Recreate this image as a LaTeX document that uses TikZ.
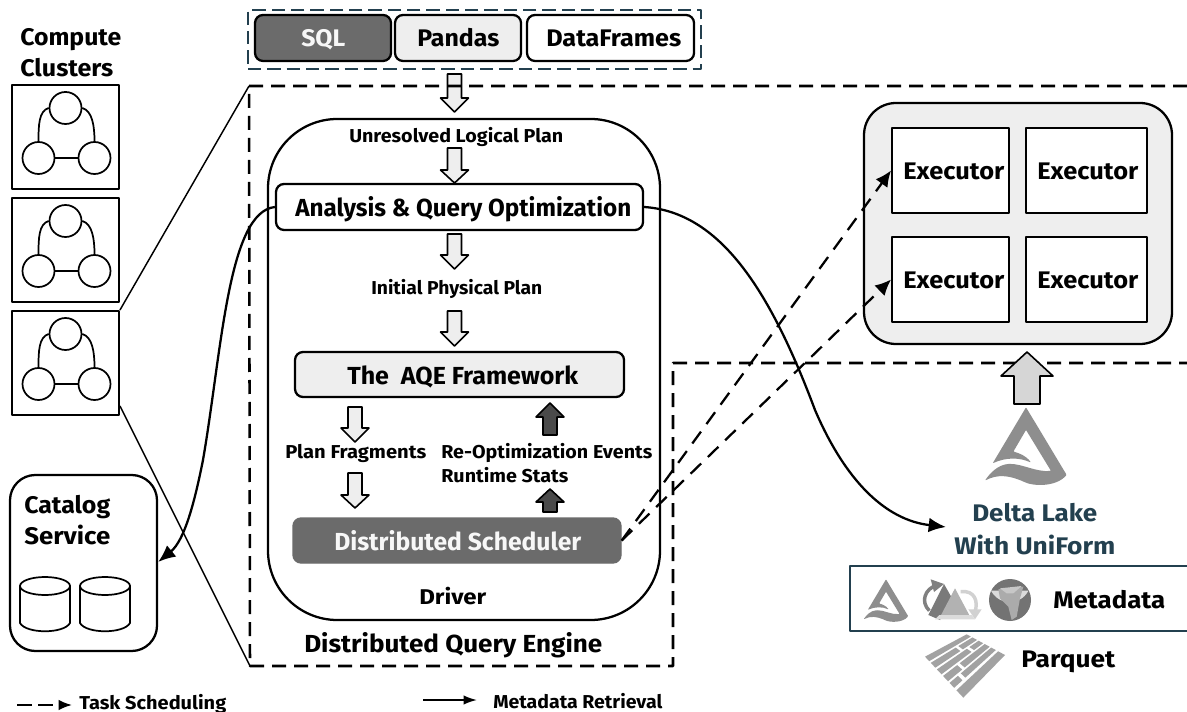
\documentclass[tikz,border=0pt]{standalone}
\usepackage{fontspec}
\setmainfont{Fira Sans}
\usetikzlibrary{arrows.meta,calc}
\newdimen\pxu \pxu=0.75pt
\definecolor{slate}{HTML}{23404F}
\definecolor{lightg}{HTML}{EEEEEE}
\definecolor{darkg}{HTML}{6B6B6B}
\definecolor{arrowd}{HTML}{4A4A4A}
\definecolor{logog}{HTML}{8E8E8E}
\definecolor{pqg}{HTML}{A2A2A2}
% #1 name, #2 style, #3 x0, #4 y0, #5 x1, #6 y1
\newcommand\bx[6]{%
  \pgfmathsetmacro\bxw{#5-#3}\pgfmathsetmacro\bxh{#6-#4}%
  \pgfmathsetmacro\bxx{(#3+#5)/2}\pgfmathsetmacro\bxy{(#4+#6)/2}%
  \node[#2,inner sep=0pt,minimum width=\bxw*\pxu,minimum height=\bxh*\pxu] (#1) at (\bxx,\bxy) {};}
% #1 name, #2 colour, #3 font size pt, #4 x left, #5 baseline, #6 width px, #7 text
\newcommand\tx[7]{%
  \node[anchor=base west,inner sep=0pt,text=#2] (#1) at (#4,#5+1)
   {\resizebox{#6\pxu}{\height}{\fontsize{#3}{#3}\selectfont\bfseries #7}};}
% block arrows: cx, ytop, yhead, ytip, half shaft, fill
\newcommand\blk[6]{%
  \pgfmathsetmacro\bl{#1-#5}\pgfmathsetmacro\br{#1+#5}%
  \pgfmathsetmacro\hl{#1-#5*2}\pgfmathsetmacro\hr{#1+#5*2}%
  \draw[blockline,fill=#6] (\bl,#2) -- (\br,#2) -- (\br,#3) -- (\hr,#3) -- (#1,#4) -- (\hl,#3) -- (\bl,#3) -- cycle;}
\newcommand\cluster[3]{%
  \bx{#1}{clusterbox}{#2}{#3}{#2+107}{#3+104}
  \node[nodecirc] (#1t) at (#2+53.5,#3+23) {};
  \node[nodecirc] (#1l) at (#2+26.5,#3+73) {};
  \node[nodecirc] (#1r) at (#2+82.5,#3+73) {};
  \draw[innerline] (#1l) -- (#1r);
  \draw[innerline] (#1t.west) .. controls +(-10,3) and +(0,-15) .. (#1l.north);
  \draw[innerline] (#1t.east) .. controls +(10,3) and +(0,-15) .. (#1r.north);
}
\newcommand\cyl[2]{%
  \draw[innerline,fill=white] (#1,#2) -- (#1,#2+37) .. controls (#1+6,#2+48) and (#1+44,#2+48) .. (#1+50,#2+37) -- (#1+50,#2) -- cycle;
  \draw[innerline,fill=white] (#1+25,#2) ellipse[x radius=25,y radius=9];
}
\newcommand\deltalogo[3]{%
  \begin{scope}[shift={(#1,#2)},x=#3*\pxu,y=-#3*\pxu]
  \fill[logog,rounded corners=0.6pt] (0,0) -- (-100,168)
    .. controls (-60,150) and (-20,150) .. (15,166)
    .. controls (0,145) and (-20,138) .. (-38,133) -- (0,68) -- (75,191)
    .. controls (30,195) and (-10,170) .. (-50,170)
    .. controls (-85,172) and (-110,200) .. (-123,220)
    .. controls (-85,200) and (-50,205) .. (-10,222)
    .. controls (20,238) and (90,240) .. (122,203) -- cycle;
  \end{scope}}
% parquet strip: u0 u1 v0 v1
\newcommand\pq[4]{%
  \fill[pqg] ({30+#1*125+#3*115},{95-#1*67+#3*(123-#1*61)}) --
             ({30+#2*125+#3*115},{95-#2*67+#3*(123-#2*61)}) --
             ({30+#2*125+#4*115},{95-#2*67+#4*(123-#2*61)}) --
             ({30+#1*125+#4*115},{95-#1*67+#4*(123-#1*61)}) -- cycle;}
\begin{document}
\begin{tikzpicture}[x=0.75pt,y=-0.75pt,
  line join=round,
  boxline/.style={draw=black,line width=1.7pt},
  rbox/.style={boxline,rectangle,rounded corners=6pt},
  clusterbox/.style={draw=black,line width=1.4pt,rectangle},
  nodecirc/.style={draw=black,line width=1.3pt,circle,inner sep=0pt,minimum size=24pt,fill=white},
  innerline/.style={draw=black,line width=1.3pt},
  blockline/.style={draw=black,line width=1.2pt},
  regionline/.style={draw=black,line width=1.9pt,dash pattern=on 10.5pt off 6pt},
  inputline/.style={draw=slate,line width=1.7pt,dash pattern=on 10pt off 4.5pt},
  schedline/.style={draw=black,line width=1.7pt,dash pattern=on 11pt off 7pt,-{Latex[length=12pt,width=11pt]}},
  metaline/.style={draw=black,line width=1.7pt,-{Latex[length=13pt,width=11pt]}},
  thinline/.style={draw=black,line width=1.1pt}]
\useasboundingbox (0,0) rectangle (1187,712);
\fill[white] (0,0) rectangle (1187,712);

% input group
\bx{inputs}{inputline,rectangle}{248}{10}{701}{69}
\bx{sql}{rbox,fill=darkg}{255}{15}{391}{61}
\bx{pandas}{rbox,fill=lightg}{395}{15}{521}{61}
\bx{frames}{rbox,fill=white}{527}{15}{694}{61}
\tx{tsql}{black!3}{18}{301}{46}{44}{SQL}
\tx{tpandas}{black}{18}{417}{46}{82}{Pandas}
\tx{tframes}{black}{18}{546}{46}{135}{DataFrames}

\blk{454.5}{74}{98}{112}{7}{lightg}

% region
\coordinate (rtl) at (249,86);
\coordinate (rbl) at (250,666);
\draw[regionline] (1187,86) -- (rtl) -- (rbl) -- (673,666) -- (673,363) -- (1187,363);

% compute clusters
\tx{tcomp}{black}{18}{20}{45}{101}{Compute}
\tx{tclus}{black}{18}{20}{76}{93}{Clusters}
\cluster{c1}{12}{85}
\cluster{c2}{12}{198}
\cluster{c3}{12}{311}
\draw[thinline] (c3.north east) -- (rtl);
\draw[thinline] ($(c3.south east)+(0,-10)$) -- (rbl);

% catalog
\bx{catalog}{boxline,rectangle,rounded corners=19pt,fill=white}{10}{475}{157}{651}
\tx{tcat}{black}{18}{24}{512}{86}{Catalog}
\tx{tser}{black}{18}{24}{543}{86}{Service}
\cyl{20}{586}
\cyl{80}{586}

% driver
\bx{driver}{boxline,rectangle,rounded corners=52pt,fill=white}{268}{119}{660}{620}
\tx{tulp}{black}{14}{349}{142}{214}{Unresolved Logical Plan}
\blk{454.5}{148}{170}{183}{7}{lightg}
\bx{analysis}{rbox,fill=white}{276}{184}{643}{230}
\tx{tana}{black}{18.5}{295}{216}{336}{Analysis \& Query Optimization}
\blk{454.5}{234}{255}{269}{7}{lightg}
\tx{tipp}{black}{14}{371}{294}{171}{Initial Physical Plan}
\blk{454.5}{311}{332}{346}{7}{lightg}
\bx{aqe}{rbox,fill=lightg}{295}{352}{624}{397}
\tx{taqe}{black}{18.5}{347}{383}{231}{The\ \ AQE Framework}
\blk{355}{407}{428}{442}{7}{lightg}
\tx{tfrag}{black}{14}{285}{457}{141}{Plan Fragments}
\blk{355}{473}{495}{508}{7}{lightg}
\tx{tre}{black}{14}{441}{457}{211}{Re-Optimization Events}
\tx{trun}{black}{14}{441}{481}{127}{Runtime Stats}
\blk{550}{435}{417}{403}{7}{arrowd}
\blk{550}{512}{502}{489}{7}{arrowd}
\bx{sched}{draw=darkg,line width=1pt,rectangle,rounded corners=6pt,fill=darkg}{293}{518}{621}{563}
\tx{tsch}{black!3}{18.5}{334}{549}{247}{Distributed Scheduler}
\tx{tdrv}{black}{16}{419}{603}{67}{Driver}
\tx{tdqe}{black}{18.5}{304}{651}{298}{Distributed Query Engine}

% executors
\bx{pool}{boxline,rectangle,rounded corners=24pt,fill=lightg}{864}{103}{1172}{344}
\bx{e1}{clusterbox,fill=white}{892}{128}{1009}{213}
\bx{e2}{clusterbox,fill=white}{1026}{128}{1147}{213}
\bx{e3}{clusterbox,fill=white}{892}{237}{1009}{322}
\bx{e4}{clusterbox,fill=white}{1026}{237}{1147}{322}
\tx{te1}{black}{18}{903}{179}{101}{Executor}
\tx{te2}{black}{18}{1037}{179}{101}{Executor}
\tx{te3}{black}{18}{903}{288}{101}{Executor}
\tx{te4}{black}{18}{1037}{288}{101}{Executor}
\blk{1027}{404}{376}{352}{13}{black!16}

% delta lake
\deltalogo{1026}{407.3}{0.333}
\tx{tdl}{slate}{18}{972}{520}{125}{Delta Lake}
\tx{twu}{slate}{18}{954}{553}{161}{With UniForm}
\bx{meta}{draw=slate,line width=1.3pt,rectangle}{850}{566}{1200}{631}
\deltalogo{886}{579.3}{0.182}
\tx{tmeta}{black}{18}{1053}{607}{112}{Metadata}
\begin{scope}[shift={(860,570)},x=0.25pt,y=-0.25pt]
  % rotating arrows and triangles
  \draw[logog!90!black,line width=2.6pt] (208,122) .. controls (180,95) and (195,55) .. (232,45);
  \fill[logog!90!black] (212,28) -- (252,42) -- (222,66) -- cycle;
  \fill[black!52] (252,42) -- (278,88) -- (240,150) -- (205,135) -- cycle;
  \draw[black!18,line width=2.6pt] (302,65) .. controls (345,60) and (355,95) .. (345,125);
  \fill[black!18] (325,118) -- (365,118) -- (345,148) -- cycle;
  \fill[black!30] (285,55) -- (333,145) -- (238,145) -- cycle;
  \fill[black!14] (225,148) -- (345,148) -- (335,135) -- (238,135) -- cycle;
  % iceberg globe
  \fill[black!55] (450,90) circle[radius=63];
  \fill[black!14] (393,62) arc[start angle=153,end angle=27,radius=63] -- cycle;
  \fill[black!33] (415,58) -- (490,50) -- (480,85) -- (470,140) -- (455,150) -- (445,110) -- (420,85) -- cycle;
  \fill[black!22] (420,55) -- (485,48) -- (460,70) -- (440,70) -- cycle;
\end{scope}
\begin{scope}[shift={(915,625)},x=0.25pt,y=-0.25pt]
  \pq{0}{1}{0}{.11}
  \pq{0}{.6}{.15}{.27}\pq{.66}{1}{.15}{.27}
  \pq{0}{.72}{.31}{.43}\pq{.78}{1}{.31}{.43}
  \pq{0}{.34}{.47}{.6}\pq{.4}{1}{.47}{.6}
  \pq{0}{.2}{.64}{.76}\pq{.27}{1}{.64}{.76}
  \pq{0}{1}{.82}{1}
\end{scope}
\tx{tpar}{black}{18}{1021}{666}{94}{Parquet}

% connectors
\draw[metaline] (analysis.west) .. controls (228,212) and (222,350) .. (203,460)
   .. controls (195,500) and (185,540) .. (catalog.east |- 0,562);
\draw[metaline] (analysis.east) .. controls (720,212) and (770,290) .. (815,410)
   .. controls (845,480) and (885,520) .. (946,527);
\draw[schedline] (sched.east) -- (e1.west);
\draw[schedline] (sched.east) -- (e3.west);

% legend
\coordinate (la) at (17,705);\coordinate (lb) at (72,705);
\coordinate (lc) at (423,700);\coordinate (ld) at (477,700);
\draw[line width=1.6pt,dash pattern=on 11pt off 5pt,-{Latex[length=10pt,width=8pt]}] (la) -- (lb);
\draw[line width=1.3pt,-{Latex[length=10pt,width=7pt]}] (lc) -- (ld);
\tx{tlt}{black}{14}{79}{708}{147}{Task Scheduling}
\tx{tlm}{black}{14}{493}{707}{169}{Metadata Retrieval}
\end{tikzpicture}
\end{document}
